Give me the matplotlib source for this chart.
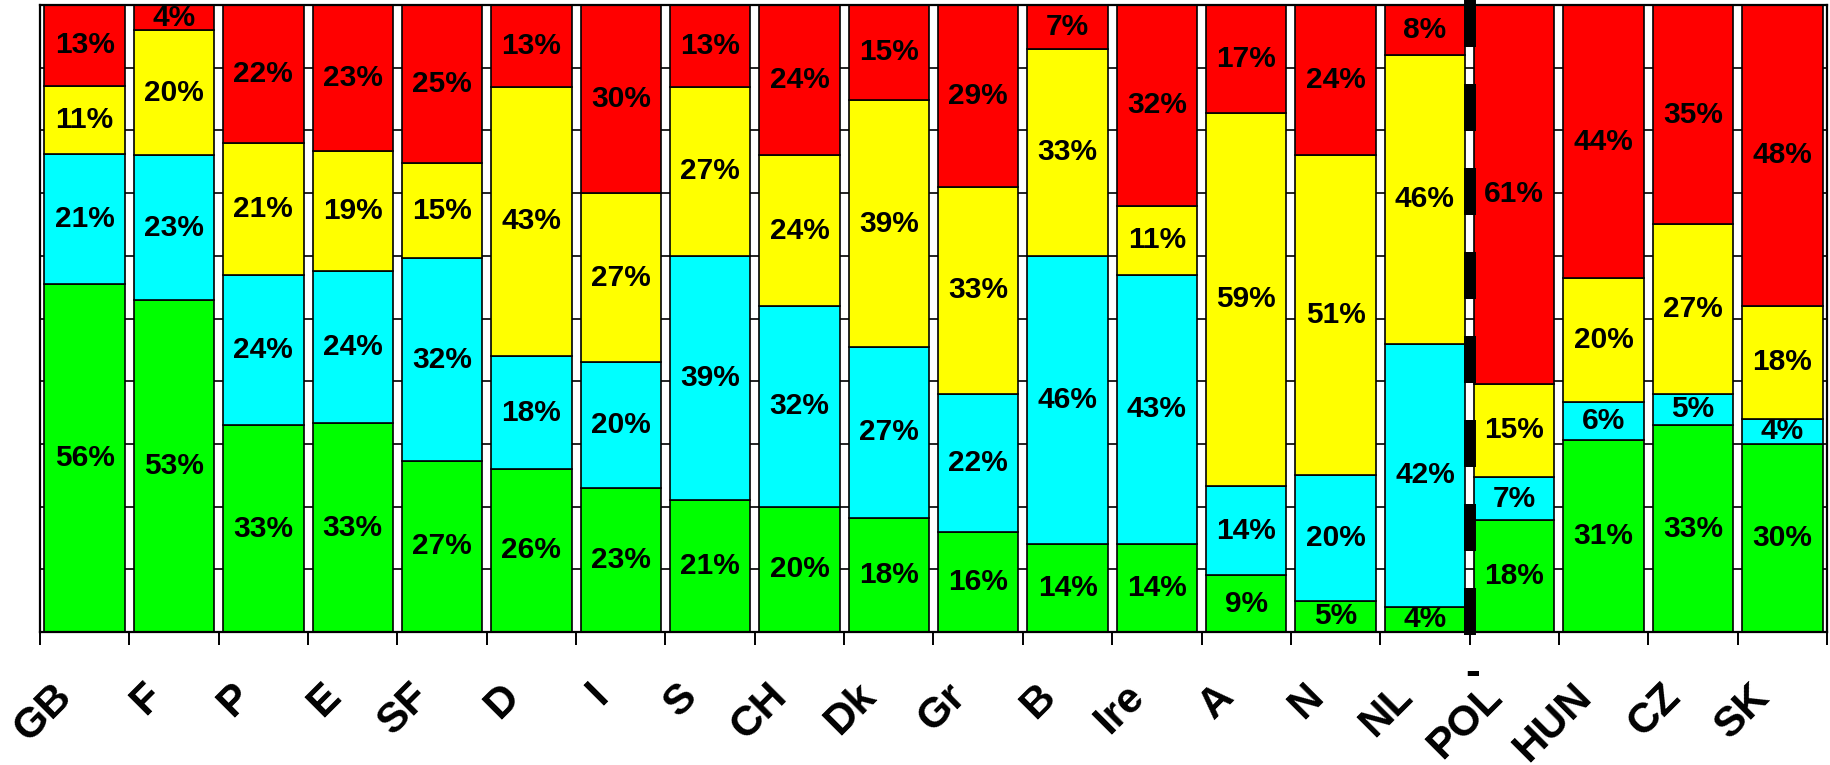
import numpy as np
import matplotlib
matplotlib.use("Agg")
import matplotlib.pyplot as plt
from matplotlib.transforms import offset_copy

plt.rcParams['font.family'] = ['Liberation Sans', 'DejaVu Sans']
plt.rcParams['font.weight'] = 'bold'

countries = ["GB", "F", "P", "E", "SF", "D", "I", "S", "CH", "Dk",
             "Gr", "B", "Ire", "A", "N", "NL", "POL", "HUN", "CZ", "SK"]

# shares per country, bottom to top of each bar
green = [56, 53, 33, 33, 27, 26, 23, 21, 20, 18, 16, 14, 14, 9, 5, 4, 18, 31, 33, 30]
cyan = [21, 23, 24, 24, 32, 18, 20, 39, 32, 27, 22, 46, 43, 14, 20, 42, 7, 6, 5, 4]
yellow = [11, 20, 21, 19, 15, 43, 27, 27, 24, 39, 33, 33, 11, 59, 51, 46, 15, 20, 27, 18]
red = [13, 4, 22, 23, 25, 13, 30, 13, 24, 15, 29, 7, 32, 17, 24, 8, 61, 44, 35, 48]

series = [green, cyan, yellow, red]
colors = ["#00ff00", "#00ffff", "#ffff00", "#ff0000"]

vals = np.array(series, dtype=float)
pct = vals / vals.sum(axis=0) * 100  # 100% stacked

fig = plt.figure(figsize=(18.31, 7.65), dpi=100)
ax = fig.add_axes([40 / 1831, 133 / 765, 1787 / 1831, 627 / 765])

x = np.arange(len(countries))
bottom = np.zeros(len(countries))
for k in range(4):
    ax.bar(x, pct[k], 0.9, bottom=bottom, color=colors[k],
           edgecolor="black", linewidth=1.2, zorder=2)
    for i in range(len(countries)):
        ax.text(x[i], bottom[i] + pct[k][i] / 2, f"{series[k][i]}%",
                ha="center", va="center", fontsize=21.5, fontweight="bold",
                zorder=3)
    bottom += pct[k]

ax.set_xlim(-0.5, len(countries) - 0.5)
ax.set_ylim(0, 100)
ax.set_yticks(np.arange(0, 101, 10))
ax.set_yticklabels([])
ax.tick_params(axis="y", length=0)
ax.grid(axis="y", color="black", linewidth=1.2)
ax.set_axisbelow(True)

ax.set_xticks(np.arange(-0.5, len(countries), 1))
ax.set_xticklabels([])
ax.tick_params(axis="x", length=9.5, width=1.4, color="black")
for s in ax.spines.values():
    s.set_linewidth(1.6)

# country names, rotated, text end anchored just left of the bar centre
lab_tr = offset_copy(ax.get_xaxis_transform(), fig=fig, x=-11, y=-66, units="dots")
for i, c in enumerate(countries):
    ax.text(i, 0, c, transform=lab_tr, rotation=45, rotation_mode="anchor",
            ha="right", va="baseline", fontsize=30.5, fontweight="bold")

# divider between western and eastern countries
lw = 8.6
on, off = 47 * 0.72, 37 * 0.72
ax.plot([15.5, 15.5], [1.008, -0.008], transform=ax.get_xaxis_transform(),
        color="black", linewidth=lw, linestyle=(0, (on / lw, off / lw)),
        solid_capstyle="butt", dash_capstyle="butt", clip_on=False, zorder=4)
dash_tr = offset_copy(ax.get_xaxis_transform(), fig=fig, x=3, y=-42, units="dots")
ax.text(15.5, 0, "-", transform=dash_tr, ha="center", va="center",
        fontsize=32, fontweight="bold")

fig.savefig("out.png", dpi=100)
